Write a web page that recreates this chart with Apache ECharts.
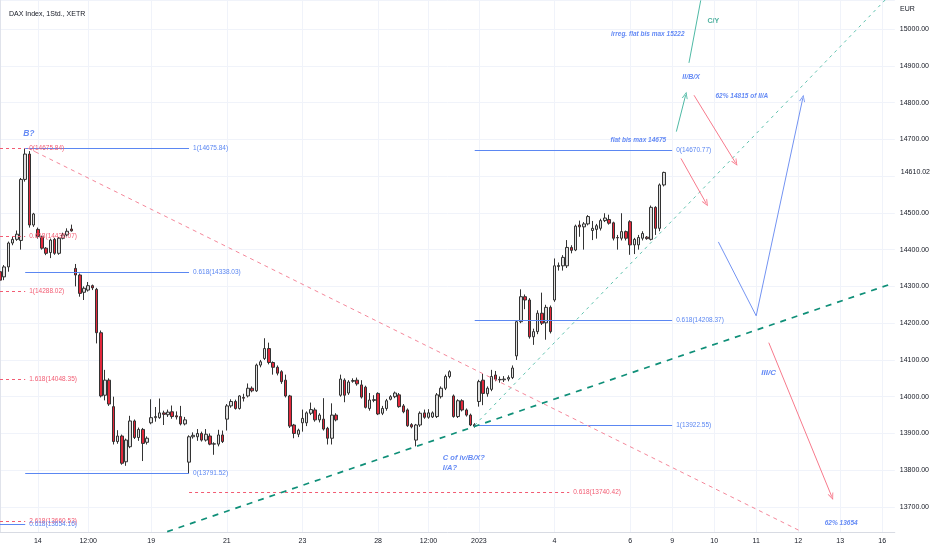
<!DOCTYPE html>
<html>
<head>
<meta charset="utf-8">
<script src="https://cdn.jsdelivr.net/npm/echarts@6/dist/echarts.min.js"></script>
<style>
html, body { margin: 0; padding: 0; background: #fff; }
#main { width: 932px; height: 550px; }
</style>
</head>
<body>
<div id="main"></div>
<script>
// sessions: day + number of hourly slots (future days included)
var sessions = [
    ['13.12', 9], ['14.12', 9], ['15.12', 9], ['16.12', 9], ['19.12', 9], ['20.12', 9],
    ['21.12', 9], ['22.12', 9], ['23.12', 9], ['27.12', 9], ['28.12', 9], ['29.12', 9],
    ['30.12', 6], ['02.01', 9], ['03.01', 9], ['04.01', 9], ['05.01', 9], ['06.01', 10],
    ['09.01', 10], ['10.01', 10], ['11.01', 10], ['12.01', 10], ['13.01', 10], ['16.01', 4]
];
// x tick labels, keyed by slot name
var xTicks = {
    '14.12 09': '14', '15.12 12': '12:00', '19.12 09': '19', '21.12 09': '21',
    '23.12 09': '23', '28.12 09': '28', '29.12 12': '12:00', '02.01 09': '2023',
    '04.01 09': '4', '06.01 09': '6', '09.01 09': '9', '10.01 09': '10',
    '11.01 09': '11', '12.01 09': '12', '13.01 09': '13', '16.01 09': '16'
};

// hourly candles [open, close, low, high]
var dec13 = [[14340,14317,14310,14345],[14326,14353,14317,14358],[14353,14418,14340,14422],[14418,14428,14412,14435],
    [14428,14442,14424,14452],[14425,14591,14400,14595],[14591,14660,14585,14676],[14660,14467,14460,14668],[14467,14497,14462,14500]];
var dec14 = [[14455,14436,14430,14460],[14435,14404,14400,14438],[14404,14390,14385,14407],[14392,14426,14377,14430],
    [14428,14390,14386,14432],[14390,14431,14386,14434],[14431,14440,14428,14446],[14440,14450,14436,14458],[14456,14451,14449,14468]];
var dec15 = [[14349,14331,14300,14361],[14331,14281,14272,14335],[14284,14295,14263,14300],[14290,14302,14286,14312],
    [14302,14296,14290,14305],[14292,14174,14145,14296],[14174,14002,13998,14180],[14004,14045,13990,14073],[14045,13980,13975,14050]];
var dec16 = [[13973,13878,13870,14000],[13878,13893,13872,13909],[13893,13819,13815,13897],[13823,13882,13812,13886],
    [13864,13934,13860,13948],[13934,13889,13885,13938],[13889,13911,13880,13916],[13911,13873,13825,13915],[13876,13887,13870,13892]];
var dec19 = [[13929,13943,13925,13993],[13943,13946,13932,13972],[13943,13956,13940,13995],[13956,13952,13923,13962],
    [13951,13958,13945,13965],[13959,13946,13940,13976],[13948,13945,13938,13960],[13946,13926,13922,13975],[13926,13937,13922,13945]];
var dec20 = [[13822,13891,13792,13895],[13891,13895,13886,13903],[13891,13900,13880,13912],[13900,13882,13878,13905],
    [13882,13898,13878,13912],[13893,13871,13868,13900],[13871,13872,13842,13876],[13871,13896,13865,13910],[13896,13878,13874,13908]];
var dec21 = [[13939,13975,13908,13980],[13975,13987,13970,13993],[13987,13968,13965,13992],[13968,14002,13965,14004],
    [13998,13996,13987,14008],[14002,14023,13998,14036],[14023,14016,14012,14028],[14016,14086,14013,14090],[14086,14095,14080,14100]];
var dec22 = [[14104,14131,14100,14159],[14131,14093,14088,14147],[14093,14080,14060,14096],[14080,14064,14058,14085],
    [14068,14041,14035,14072],[14045,14002,13998,14060],[14002,13920,13915,14005],[13923,13900,13887,13926],[13898,13909,13890,13913]];
var dec23 = [[13929,13941,13905,13965],[13929,13956,13920,13960],[13955,13965,13950,13984],[13964,13937,13932,13970],
    [13937,13950,13930,13955],[13939,13912,13908,13996],[13914,13887,13870,13918],[13887,13950,13870,13982],[13950,13937,13933,13955]];
var dec27 = [[14004,14048,14000,14060],[14045,14004,13985,14050],[14010,14040,14005,14045],[14042,14044,14038,14050],
    [14045,14035,14030,14052],[14032,13999,13995,14045],[14026,13971,13968,14030],[13968,13991,13962,14010],[13990,13992,13985,14004]];
var dec28 = [[14009,13953,13950,14012],[13955,13968,13950,13975],[13968,13989,13962,13994],[13993,14000,13990,14004],
    [14000,14010,13996,14014],[14005,13973,13970,14010],[13975,13959,13955,13980],[13964,13921,13918,13968],[13924,13918,13914,13928]];
var dec29 = [[13882,13923,13865,13926],[13923,13955,13918,13960],[13956,13944,13940,13965],[13944,13956,13940,13966],
    [13945,13956,13942,13960],[13946,14005,13942,14010],[14000,14023,13995,14028],[14023,14055,14018,14060],[14055,14068,14050,14072]];
var dec30 = [[14002,13946,13943,14006],[13946,13989,13942,13993],[13989,13964,13960,13993],[13964,13950,13946,13968],
    [13950,13923,13920,13954],[13924,13920,13916,13928]];
var jan02 = [[13987,14041,13973,14046],[14045,14009,13977,14062],[14008,14023,14000,14028],[14020,14055,14015,14073],
    [14059,14047,14042,14070],[14047,14046,14038,14055],[14046,14048,14040,14056],[14048,14052,14042,14058],[14052,14078,14048,14085]];
var jan03 = [[14111,14204,14100,14208],[14204,14272,14200,14292],[14272,14263,14238,14278],[14263,14163,14158,14268],
    [14163,14177,14141,14185],[14177,14227,14170,14235],[14227,14200,14195,14283],[14201,14243,14155,14250],[14243,14177,14172,14248]];
var jan04 = [[14263,14356,14258,14376],[14354,14357,14343,14365],[14356,14379,14343,14385],[14356,14406,14350,14426],
    [14406,14398,14390,14412],[14399,14464,14396,14468],[14467,14462,14435,14479],[14462,14470,14400,14475],[14470,14490,14466,14494]];
var jan05 = [[14452,14458,14426,14478],[14455,14465,14430,14470],[14458,14479,14452,14484],[14479,14486,14475,14499],
    [14482,14472,14468,14495],[14473,14431,14425,14476],[14433,14432,14400,14440],[14431,14449,14425,14499],[14449,14431,14425,14452]];
var jan06 = [[14476,14413,14386,14480],[14413,14428,14388,14432],[14413,14433,14400,14440],[14431,14444,14425,14450],
    [14434,14430,14427,14437],[14428,14515,14425,14520],[14515,14458,14440,14518],[14458,14576,14450,14580],[14576,14610.02,14572,14612]];
var lastPrice = 14610.02;

// fib levels [price, label]
var fibRedLeft = [[14675.84, '0(14675.84)'], [14436.07, '0.618(14436.07)'], [14288.02, '1(14288.02)'],
    [14048.35, '1.618(14048.35)'], [13660.53, '2.618(13660.53)']];
var fibBlueEdge = [[13654.16, '0.618(13654.16)']];
var fibBlueLeft = [[14675.84, '1(14675.84)'], [14338.03, '0.618(14338.03)'], [13791.52, '0(13791.52)']];
var fibRedMid = [[13740.42, '0.618(13740.42)']];
var fibBlueRight = [[14670.77, '0(14670.77)'], [14208.37, '0.618(14208.37)'], [13922.55, '1(13922.55)']];
// bar spans of the fib groups
var spanRedLeft = [0, 6], spanBlueLeft = [6, 45], spanRedMid = [45, 135.5], spanBlueRight = [113, 160];

// trend lines and projected paths [bar, price]
var trendDown = [[6.65, 14676], [190.1, 13637]];
var trendUp = [[39.8, 13633], [212.7, 14309]];
var trendSteep = [[113, 13922.55], [210.7, 15079]];
var pathIIBX = [[161.0, 14721], [163.2, 14820]];
var pathCY = [[164.0, 14908], [166.8, 15078]];
var pathDropA = [[165.2, 14820], [175.1, 14636]];
var pathDropB = [[162.1, 14648], [168.1, 14526]];
var pathZigzag = [[171.0, 14421], [180.0, 14220], [191.1, 14812]];
var pathIIIC = [[183.0, 14147], [198.0, 13728]];

// text notes [bar, price, text]
var notes = [
    [5.4, 14715, 'B?'],
    [105.3, 13833, 'C of iv/B/X?'],
    [105.3, 13807, 'I/A?'],
    [145.2, 14698, 'flat bis max 14675'],
    [145.3, 14986, 'irreg. flat bis max 15222'],
    [168.3, 15022, 'C/Y'],
    [162.3, 14869, 'II/B/X'],
    [170.2, 14818, '62% 14815 of II/A'],
    [181.1, 14065, 'III/C'],
    [196.2, 13657, '62% 13654']
];

// ---------- build ----------
var categories = [];
sessions.forEach(function (s) {
    for (var k = 0; k < s[1]; k++) {
        categories.push(s[0] + ' ' + ('0' + (9 + k)).slice(-2));
    }
});
var candles = [].concat(dec13, dec14, dec15, dec16, dec19, dec20, dec21, dec22, dec23,
    dec27, dec28, dec29, dec30, jan02, jan03, jan04, jan05, jan06);

var BLUE = '#5b87f2', RED = '#f25c73', NOTE = '#3d6df2';
var ARROW = 'path://M0,10 L5,0 L10,10 L8.4,10 L5,3 L1.6,10 Z';
var fibFont = 6.5;

var lines = [];
function fibGroup(levels, span, color, dashed) {
    levels.forEach(function (lv) {
        lines.push([{
            coord: [span[0], lv[0]],
            lineStyle: { color: color, width: 1, type: dashed ? [3, 3] : 'solid' },
            label: { show: true, position: 'end', formatter: lv[1], color: color, fontSize: fibFont,
                distance: 4, padding: [0, 0, 11, 0] }
        }, { coord: [span[1], lv[0]] }]);
    });
}
fibGroup(fibRedLeft, spanRedLeft, RED, true);
fibGroup(fibBlueEdge, spanRedLeft, BLUE, false);
fibGroup(fibBlueLeft, spanBlueLeft, BLUE, false);
fibGroup(fibRedMid, spanRedMid, RED, true);
fibGroup(fibBlueRight, spanBlueRight, BLUE, false);

function path(pts, style, arrow) {
    for (var i = 0; i < pts.length - 1; i++) {
        var last = i === pts.length - 2;
        lines.push([{ coord: pts[i], lineStyle: style },
            { coord: pts[i + 1], symbol: (arrow && last) ? ARROW : 'none', symbolSize: [6, 7] }]);
    }
}
path(trendDown, { color: '#f4879a', width: 1, type: [4, 4] }, false);
path(trendUp, { color: '#0f8f78', width: 1.7, type: [6, 6] }, false);
path(trendSteep, { color: '#5fc2ae', width: 1, type: [3, 4] }, false);
path(pathIIBX, { color: '#4fb9a5', width: 1, type: 'solid' }, true);
path(pathCY, { color: '#4fb9a5', width: 1, type: 'solid' }, false);
path(pathDropA, { color: '#f77a8c', width: 1, type: 'solid' }, true);
path(pathDropB, { color: '#f77a8c', width: 1, type: 'solid' }, true);
path(pathZigzag, { color: '#7393f2', width: 1, type: 'solid' }, true);
path(pathIIIC, { color: '#f77a8c', width: 1, type: 'solid' }, true);

var noteSize = { 'B?': 8.5, 'C of iv/B/X?': 7.5, 'I/A?': 7.5, 'III/C': 8, 'II/B/X': 7, 'C/Y': 7 };
var noteData = notes.map(function (n) {
    var teal = n[2] === 'C/Y';
    return {
        value: [n[0], n[1]],
        label: {
            show: true, position: 'right', distance: 0, formatter: n[2],
            color: teal ? '#1f9c86' : NOTE,
            fontStyle: teal ? 'normal' : 'italic', fontWeight: 'bold',
            fontSize: noteSize[n[2]] || 6.5
        }
    };
});

var chart = echarts.init(document.getElementById('main'));
chart.setOption({
    animation: false,
    textStyle: { fontFamily: 'Liberation Sans, Arial, sans-serif' },
    title: { text: 'DAX Index, 1Std., XETR', left: 4, top: 6,
        textStyle: { fontSize: 7, fontWeight: 'normal', color: '#131722' } },
    graphic: [{ type: 'text', left: 900, top: 6, style: { text: 'EUR', fontSize: 7, fill: '#131722' } }],
    grid: { left: -1, right: 36, top: 0, bottom: 18 },
    xAxis: [{
        type: 'category', data: categories, boundaryGap: false,
        axisLine: { lineStyle: { color: '#d8dbe3' } },
        axisTick: { show: false },
        axisLabel: {
            interval: function (i, v) { return xTicks[v] !== undefined; },
            formatter: function (v) { return xTicks[v] || ''; },
            color: '#131722', fontSize: 7, margin: 6
        },
        splitLine: { show: true, interval: function (i, v) { return xTicks[v] !== undefined; },
            lineStyle: { color: '#f0f3fa' } }
    }, {
        type: 'value', min: 0, max: categories.length - 1, show: false
    }],
    yAxis: {
        type: 'value', position: 'right', scale: true,
        min: 13632, max: 15079, splitNumber: 14, minInterval: 100, maxInterval: 100,
        axisLine: { show: true, lineStyle: { color: '#e0e3eb' } },
        axisTick: { show: false },
        axisLabel: {
            showMinLabel: false, showMaxLabel: false, margin: 5, color: '#131722', fontSize: 7,
            formatter: function (v) { return v === 14600 ? '' : v.toFixed(2); }
        },
        splitLine: { lineStyle: { color: '#f0f3fa' } }
    },
    series: [{
        type: 'candlestick', name: 'DAX', data: candles, barWidth: 3,
        itemStyle: { color: '#e0e0e0', color0: '#e3283b', borderColor: '#333', borderColor0: '#333', borderWidth: 1 },
        markLine: {
            silent: true, symbol: ['none', 'none'],
            lineStyle: { color: 'rgba(0,0,0,0)', width: 1, type: 'solid' },
            label: { show: true, position: 'end', distance: 4, formatter: lastPrice.toFixed(2),
                color: '#131722', fontSize: 7, backgroundColor: '#ffffff', padding: [3, 2] },
            data: [{ yAxis: lastPrice }]
        }
    }, {
        type: 'line', name: 'drawings', xAxisIndex: 1, data: [[0, 14000]],
        symbol: 'none', lineStyle: { opacity: 0 }, silent: true,
        markLine: { silent: true, symbol: ['none', 'none'], label: { show: false }, data: lines }
    }, {
        type: 'scatter', name: 'notes', xAxisIndex: 1, data: noteData,
        symbolSize: 1, itemStyle: { color: 'transparent' }, silent: true
    }]
});
</script>
</body>
</html>
